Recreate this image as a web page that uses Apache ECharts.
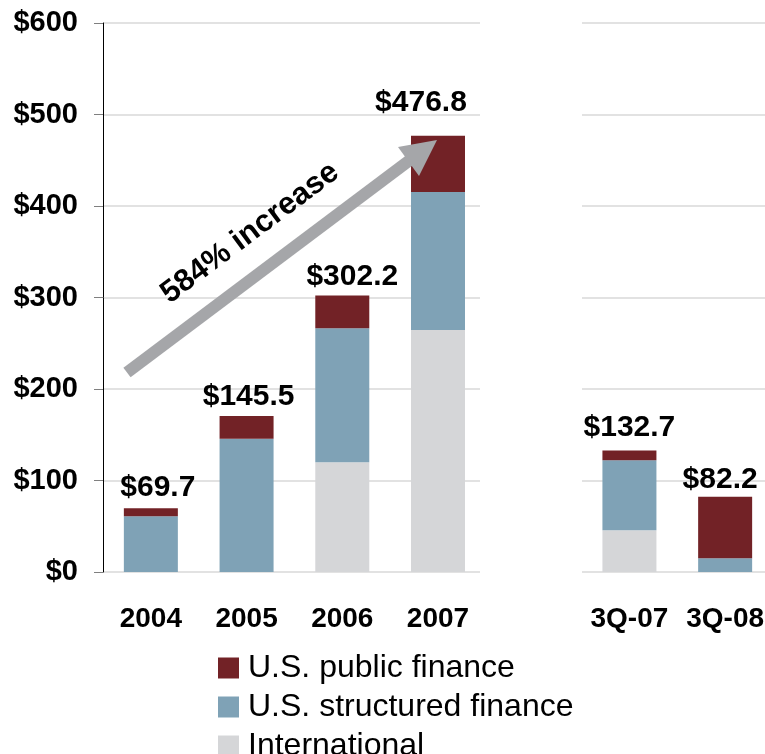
<!DOCTYPE html>
<html>
<head>
<meta charset="utf-8">
<script src="https://cdn.jsdelivr.net/npm/echarts@6/dist/echarts.min.js"></script>
<style>
  html, body { margin: 0; padding: 0; background: #fff; }
  #main { width: 765px; height: 754px; }
</style>
</head>
<body>
<div id="main"></div>
<script>
// 类目（空串是两段之间的留白）
var categories = ['2004', '2005', '2006', '2007', '', '3Q-07', '3Q-08'];
// 各部分数值（$ bn，从图上估读）
var international = [0, 0, 120, 264.4, '-', 45.6, 0];
var structured = [61, 145.5, 146.5, 151, '-', 76.6, 15];
var publicFinance = [8.7, 25, 35.7, 61.4, '-', 10.5, 67.2];
// 柱顶标签
var totalLabels = ['$69.7', '$145.5', '$302.2', '$476.8', '', '$132.7', '$82.2'];
// y 轴刻度
var yMin = 0, yMax = 600, yStep = 100;

// 标签微调 [dx, dy]
var labelNudge = [[7, -1], [2, 0], [10, 0], [-17, -14], [0, 0], [0, -4], [-5, 2]];

var FONT = '"Liberation Sans", Arial, sans-serif';

var myChart = echarts.init(document.getElementById('main'));

var topData = publicFinance.map(function (v, i) {
    return { value: v, label: { offset: labelNudge[i] } };
});

myChart.setOption({
    animation: false,
    backgroundColor: '#fff',
    textStyle: { fontFamily: FONT },
    grid: { left: 103, width: 670, top: 23, height: 549, outerBoundsMode: 'none', containLabel: false },
    legend: {
        orient: 'vertical',
        left: 218,
        top: 652,
        height: 140,
        padding: 0,
        icon: 'rect',
        itemWidth: 21,
        itemHeight: 21,
        itemGap: 7,
        data: ['U.S. public finance', 'U.S. structured finance', 'International'],
        textStyle: { fontFamily: FONT, fontSize: 32, color: '#000', lineHeight: 30, padding: [0, 0, 0, 4] }
    },
    xAxis: {
        type: 'category',
        data: categories,
        axisLine: { show: false },
        axisTick: { show: false },
        axisLabel: {
            interval: 0,
            margin: 33,
            color: '#000',
            fontFamily: FONT,
            fontSize: 28,
            fontWeight: 'bold'
        }
    },
    yAxis: {
        type: 'value',
        min: yMin,
        max: yMax,
        interval: yStep,
        axisLine: { show: true, lineStyle: { color: '#000', width: 1 } },
        axisTick: { show: true, length: 9, lineStyle: { color: '#7f7f7f' } },
        splitLine: { lineStyle: { color: '#d9d9d9', width: 1.5 } },
        axisLabel: {
            margin: 25,
            color: '#000',
            fontFamily: FONT,
            fontSize: 29,
            fontWeight: 'bold',
            formatter: function (v) { return '$' + v; }
        }
    },
    series: [
        {
            name: 'International',
            type: 'bar',
            stack: 'total',
            barWidth: 54,
            itemStyle: { color: '#d5d6d8' },
            data: international
        },
        {
            name: 'U.S. structured finance',
            type: 'bar',
            stack: 'total',
            barWidth: 54,
            itemStyle: { color: '#7fa2b6' },
            data: structured
        },
        {
            name: 'U.S. public finance',
            type: 'bar',
            stack: 'total',
            barWidth: 54,
            itemStyle: { color: '#722226' },
            label: {
                show: true,
                position: 'top',
                distance: 4,
                color: '#000',
                fontFamily: FONT,
                fontSize: 30,
                fontWeight: 'bold',
                formatter: function (p) { return totalLabels[p.dataIndex]; }
            },
            data: topData
        }
    ],
    graphic: [
        // 两段之间的空白
        {
            type: 'rect',
            z: 1,
            shape: { x: 480, y: 10, width: 102, height: 570 },
            style: { fill: '#fff' }
        },
        // 增长箭头
        {
            type: 'line',
            z: 10,
            shape: { x1: 127, y1: 372.5, x2: 410, y2: 160 },
            style: { stroke: '#a5a6a9', lineWidth: 12 }
        },
        {
            type: 'polygon',
            z: 10,
            shape: { points: [[437, 140], [398, 147], [419, 176]] },
            style: { fill: '#a5a6a9' }
        },
        {
            type: 'text',
            z: 10,
            x: 250,
            y: 233,
            rotation: Math.atan2(232.5, 310),
            style: {
                text: '584% increase',
                align: 'center',
                verticalAlign: 'middle',
                fill: '#000',
                font: 'bold 31px ' + FONT
            }
        }
    ]
});
</script>
</body>
</html>
